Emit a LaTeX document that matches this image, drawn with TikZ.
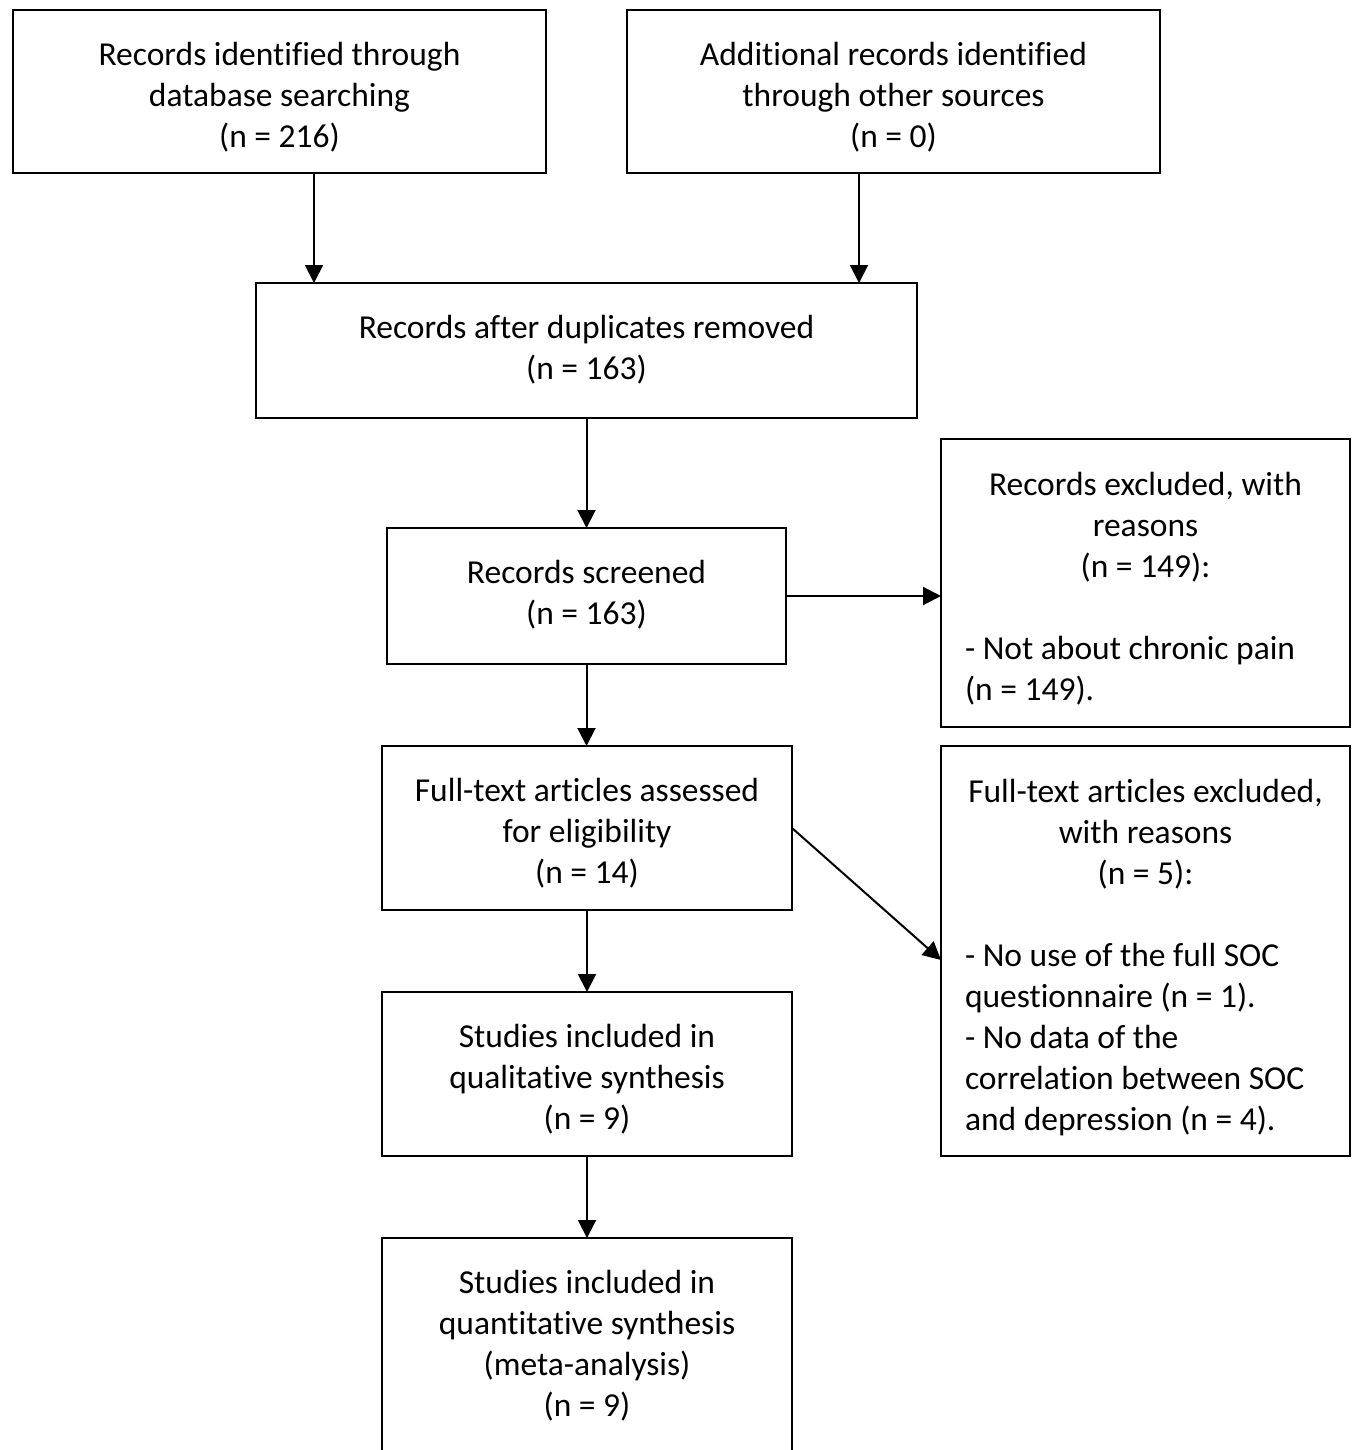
\documentclass[tikz,border=0pt]{standalone}
\usepackage{fontspec}
\setmainfont{Carlito}[Ligatures={NoCommon}]
\usetikzlibrary{arrows.meta}
\newcommand{\topstrut}{\rule{0pt}{30pt}}
\begin{document}
\begin{tikzpicture}[x=1pt,y=-1pt,
  box/.style={draw, line width=2.5pt, inner sep=0pt, outer sep=0pt},
  txt/.style={inner sep=0pt, outer sep=0pt, align=center, anchor=north,
    font=\fontsize{33.5}{41}\selectfont},
  sidetxt/.style={inner sep=0pt, outer sep=0pt, align=flush left, anchor=north,
    text width=361pt, font=\fontsize{33.5}{41}\selectfont},
  arr/.style={line width=2pt, -{Triangle[length=18pt,width=18pt]}}
]
\useasboundingbox (0,0) rectangle (1356,1450);
\clip (0,0) rectangle (1356,1450);
% boxes
\node[box, minimum width=533pt, minimum height=163pt] (A) at (279.5,91.5) {};
\node[box, minimum width=533pt, minimum height=163pt] (B) at (893.5,91.5) {};
\node[box, minimum width=661pt, minimum height=135pt] (C) at (586.5,350.5) {};
\node[box, minimum width=399pt, minimum height=136pt] (D) at (586.5,596) {};
\node[box, minimum width=409pt, minimum height=288pt] (E) at (1145.5,583) {};
\node[box, minimum width=410pt, minimum height=164pt] (F) at (587,828) {};
\node[box, minimum width=409pt, minimum height=410pt] (G) at (1145.5,951) {};
\node[box, minimum width=410pt, minimum height=164pt] (H) at (587,1074) {};
\node[box, minimum width=410pt, minimum height=224pt] (I) at (587,1350) {};
% texts
\node[txt] (At) at ([yshift=-25.5pt]A.north)
  {\topstrut Records identified through\\database searching\\(n = 216)};
\node[txt] (Bt) at ([yshift=-25.5pt]B.north)
  {\topstrut Additional records identified\\through other sources\\(n = 0)};
\node[txt] (Ct) at ([yshift=-25.5pt]C.north)
  {\topstrut Records after duplicates removed\\(n = 163)};
\node[txt] (Dt) at ([yshift=-25.5pt]D.north)
  {\topstrut Records screened\\(n = 163)};
\node[sidetxt] (Et) at ([yshift=-26pt]E.north)
  {\spaceskip=0pt\xspaceskip=0pt\relax
   \topstrut\makebox[361pt]{Records excluded, with}\\
   \makebox[361pt]{reasons}\\
   \makebox[361pt]{(n = 149):}\\
   \mbox{}\\
   - Not about chronic pain\\
   (n = 149).};
\node[txt] (Ft) at ([yshift=-25.5pt]F.north)
  {\topstrut Full-text articles assessed\\for eligibility\\(n = 14)};
\node[sidetxt] (Gt) at ([yshift=-26pt]G.north)
  {\spaceskip=0pt\xspaceskip=0pt\relax
   \topstrut\makebox[361pt]{Full-text articles excluded,}\\
   \makebox[361pt]{with reasons}\\
   \makebox[361pt]{(n = 5):}\\
   \mbox{}\\
   - No use of the full SOC\\
   questionnaire (n = 1).\\
   - No data of the\\
   correlation between SOC\\
   and depression (n = 4).};
\node[txt] (Ht) at ([yshift=-25.5pt]H.north)
  {\topstrut Studies included in\\qualitative synthesis\\(n = 9)};
\node[txt] (It) at ([yshift=-25.5pt]I.north)
  {\topstrut Studies included in\\quantitative synthesis\\(meta-analysis)\\(n = 9)};
% connectors
\draw[arr] ([xshift=34.5pt]A.south) -- ([xshift=34.5pt]A.south |- C.north);
\draw[arr] ([xshift=-34.5pt]B.south) -- ([xshift=-34.5pt]B.south |- C.north);
\draw[arr] (C.south) -- (C.south |- D.north);
\draw[arr] (D.east) -- (D.east -| E.west);
\draw[arr] (D.south) -- (D.south |- F.north);
\draw[arr] (F.east) -- ([yshift=-9pt]G.west);
\draw[arr] (F.south) -- (F.south |- H.north);
\draw[arr] (H.south) -- (H.south |- I.north);
\end{tikzpicture}
\end{document}
